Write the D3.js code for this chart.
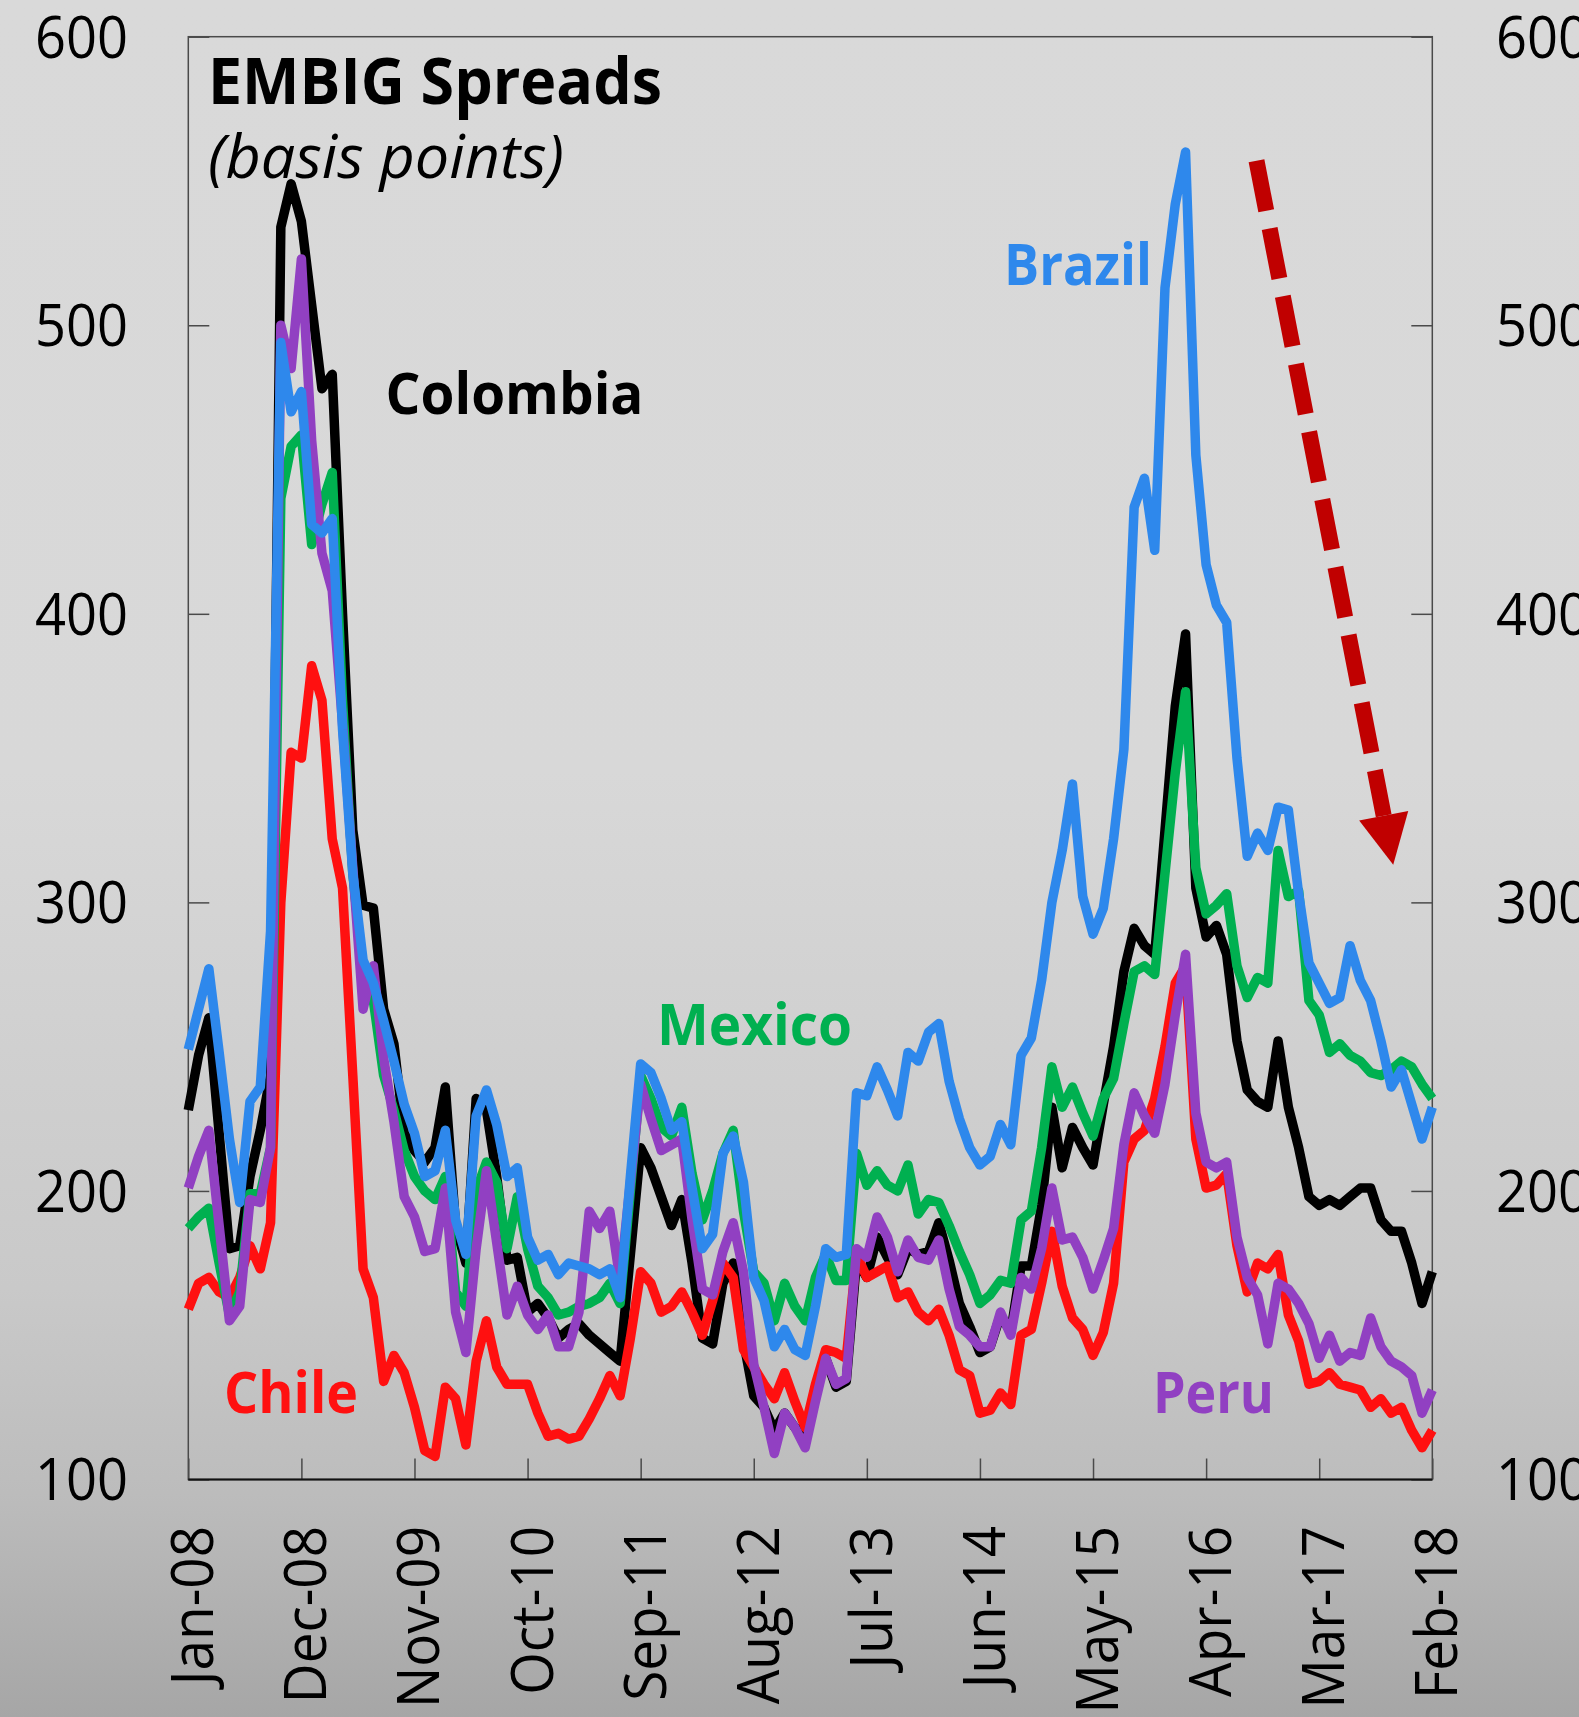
<!DOCTYPE html>
<html>
<head>
<meta charset="utf-8">
<script src="https://cdn.jsdelivr.net/npm/d3@7"></script>
<style>
  html, body { margin: 0; padding: 0; background: #d9d9d9; }
  svg { display: block; }
</style>
</head>
<body>
<svg id="chart" width="1579" height="1717"></svg>
<script>
// Monthly EMBIG spreads (basis points), Jan-2008 .. Feb-2018, one row per year
const brazil = [
  249, 263, 277, 248, 218, 196, 231, 236, 290, 494, 470, 477,
  431, 428, 433, 360, 310, 280, 272, 259, 245, 230, 220, 205,
  207, 221, 190, 178, 226, 235, 223, 205, 208, 184, 176, 178,
  171, 175, 174, 173, 171, 173, 163, 205, 244, 241, 232, 221,
  224, 201, 180, 185, 213, 219, 203, 170, 162, 146, 152, 145,
  143, 160, 180, 177, 178, 234, 233, 243, 235, 226, 248, 245,
  255, 258, 238, 225, 215, 209, 212, 223, 216, 247, 253, 273,
  300, 318, 341, 302, 289, 298, 322, 353, 437, 447, 422, 513,
  542, 560, 455, 417, 403, 397, 350, 316, 324, 318, 333, 332,
  303, 279, 272, 265, 267, 285, 273, 266, 252, 236, 242, 230,
  218, 229
];
const colombia = [
  228, 247, 260, 220, 180, 181, 205, 221, 240, 534, 549, 536,
  507, 478, 483, 400, 325, 299, 298, 263, 251, 220, 214, 210,
  215, 236, 188, 175, 232, 228, 205, 176, 177, 158, 161, 156,
  149, 152, 154, 150, 147, 144, 141, 178, 215, 208, 198, 188,
  197, 175, 149, 147, 168, 175, 148, 129, 125, 117, 123, 118,
  116, 132, 142, 132, 134, 176, 170, 184, 177, 171, 180, 178,
  179, 189, 176, 161, 153, 144, 146, 157, 151, 174, 174, 195,
  229, 208, 222, 215, 209, 230, 250, 276, 291, 285, 282, 325,
  368, 393, 305, 288, 292, 282, 252, 235, 231, 229, 252, 229,
  215, 198, 195, 197, 195, 198, 201, 201, 190, 186, 186, 175,
  161, 172
];
const mexico = [
  187, 191, 194, 175, 157, 165, 199, 199, 215, 440, 458, 462,
  424, 438, 449, 370, 310, 275, 266, 240, 228, 214, 205, 200,
  197, 205, 165, 160, 200, 210, 203, 180, 198, 180, 167, 163,
  157, 158, 160, 161, 163, 168, 161, 200, 240, 232, 222, 219,
  229, 206, 190, 200, 213, 221, 193, 172, 168, 155, 168, 160,
  155, 170, 178, 169, 169, 213, 202, 207, 202, 200, 209, 192,
  197, 196, 188, 179, 171, 161, 164, 169, 168, 190, 193, 215,
  243, 229, 236, 227, 219, 232, 239, 258, 276, 278, 275, 310,
  345, 373, 312, 296, 299, 303, 278, 267, 274, 272, 318, 302,
  304, 266, 261, 248, 251, 247, 245, 241, 240, 242, 245, 243,
  237, 232
];
const peru = [
  201, 212, 221, 188, 155, 160, 197, 196, 215, 500, 485, 523,
  460, 421, 408, 362, 312, 263, 278, 246, 224, 198, 191, 179,
  180, 201, 158, 144, 180, 207, 182, 157, 167, 157, 152, 157,
  146, 146, 158, 193, 187, 193, 169, 203, 237, 225, 214, 216,
  218, 190, 166, 164, 179, 189, 172, 140, 125, 109, 123, 118,
  111, 127, 142, 133, 135, 180, 177, 191, 184, 172, 183, 177,
  176, 183, 166, 153, 150, 146, 146, 158, 150, 170, 166, 180,
  201, 183, 184, 177, 166, 176, 187, 216, 234, 226, 220, 237,
  261, 282, 227, 210, 208, 210, 184, 170, 164, 147, 168, 166,
  161, 154, 142, 150, 141, 144, 143, 156, 146, 141, 139, 136,
  123, 131
];
const chile = [
  159, 168, 170, 165, 163, 170, 181, 173, 189, 300, 352, 350,
  382, 370, 322, 305, 240, 173, 163, 134, 143, 137, 125, 110,
  108, 132, 128, 112, 141, 155, 139, 133, 133, 133, 123, 115,
  116, 114, 115, 121, 128, 136, 129, 149, 172, 168, 158, 160,
  165, 158, 150, 162, 175, 170, 145, 139, 133, 128, 137, 127,
  118, 133, 145, 144, 142, 178, 170, 172, 174, 163, 165, 158,
  155, 159, 150, 138, 136, 123, 124, 130, 126, 150, 152, 168,
  186, 167, 156, 152, 143, 151, 168, 210, 218, 221, 232, 250,
  272, 278, 218, 201, 202, 206, 181, 165, 175, 173, 178, 157,
  148, 133, 134, 137, 133, 132, 131, 125, 128, 123, 125, 117,
  111, 117
];

const tickLabels = ["Jan-08", "Dec-08", "Nov-09", "Oct-10", "Sep-11", "Aug-12",
                    "Jul-13", "Jun-14", "May-15", "Apr-16", "Mar-17", "Feb-18"];
const yTicks = [100, 200, 300, 400, 500, 600];

// Category axis: one slot per month
const months = d3.timeMonth.range(new Date(2008, 0, 1), new Date(2018, 2, 1)).map(d3.timeFormat("%b-%y"));

// Series in drawing order (last one ends up on top)
const series = [
  { name: "Colombia", values: colombia, color: "#000000" },
  { name: "Chile",    values: chile,    color: "#ff1010" },
  { name: "Mexico",   values: mexico,   color: "#00b050" },
  { name: "Peru",     values: peru,     color: "#9140c2" },
  { name: "Brazil",   values: brazil,   color: "#2e88ec" }
];

const W = 1579, H = 1717;
const M = { left: 188.3, right: 1432.3, top: 36.7, bottom: 1479.5 };
const FONT = "'Open Sans', 'Noto Sans', sans-serif";

const svg = d3.select("#chart");

// Background: flat light grey turning darker towards the bottom
const defs = svg.append("defs");
const grad = defs.append("linearGradient").attr("id", "bg").attr("x1", 0).attr("y1", 0).attr("x2", 0).attr("y2", 1);
[[0, "#d9d9d9"], [0.45, "#d8d8d8"], [0.75, "#c9c9c9"], [0.87, "#bcbcbc"], [1, "#a6a6a6"]]
  .forEach(([o, c]) => grad.append("stop").attr("offset", o).attr("stop-color", c));
svg.append("rect").attr("width", W).attr("height", H).attr("fill", "url(#bg)");

const x = d3.scalePoint().domain(months).range([M.left, M.right]);
const xi = d3.scaleLinear().domain([0, months.length - 1]).range([M.left, M.right]);
const y = d3.scaleLinear().domain([100, 600]).range([M.bottom, M.top]);

// Inward tick marks on left, right and bottom
const tickLen = 21;
const styleTicks = g => {
  g.select(".domain").remove();
  g.selectAll("line").attr("stroke", "#4a4a4a").attr("stroke-width", 1.5);
};
svg.append("g").attr("transform", `translate(${M.left},0)`)
  .call(d3.axisLeft(y).tickValues(yTicks).tickSize(-tickLen).tickSizeOuter(0).tickFormat(""))
  .call(styleTicks);
svg.append("g").attr("transform", `translate(${M.right},0)`)
  .call(d3.axisRight(y).tickValues(yTicks).tickSize(-tickLen).tickSizeOuter(0).tickFormat(""))
  .call(styleTicks);
svg.append("g").attr("transform", `translate(0,${M.bottom})`)
  .call(d3.axisBottom(x).tickValues(tickLabels).tickSize(-tickLen).tickSizeOuter(0).tickFormat(""))
  .call(styleTicks);

// Plot frame
svg.append("rect")
  .attr("x", M.left).attr("y", M.top)
  .attr("width", M.right - M.left).attr("height", M.bottom - M.top)
  .attr("fill", "none").attr("stroke", "#4a4a4a").attr("stroke-width", 1.5);
svg.append("line")
  .attr("x1", M.left).attr("x2", M.right).attr("y1", M.bottom).attr("y2", M.bottom)
  .attr("stroke", "#111").attr("stroke-width", 2);

// Measure a text's natural width so it can be squeezed to a target width
function measure(str, size, weight, style) {
  const t = svg.append("text").attr("font-family", FONT).attr("font-size", size)
    .attr("font-weight", weight || "normal").attr("font-style", style || "normal").text(str);
  const w = t.node().getComputedTextLength();
  t.remove();
  return w;
}

// Y tick labels on both sides
const yFs = 58;
const yScaleX = 93 / measure("600", yFs);
const yLab = svg.append("g").attr("font-family", FONT).attr("font-size", yFs).attr("fill", "#000");
yTicks.forEach(v => {
  const by = y(v) + yFs * 0.36;
  const w = measure(String(v), yFs) * yScaleX;
  yLab.append("text").attr("x", 128).attr("y", by).attr("text-anchor", "end")
    .attr("textLength", w).attr("lengthAdjust", "spacingAndGlyphs").text(v);
  yLab.append("text").attr("x", 1496).attr("y", by).attr("text-anchor", "start")
    .attr("textLength", w).attr("lengthAdjust", "spacingAndGlyphs").text(v);
});

// X tick labels, rotated to read bottom-to-top
const xFs = 58;
const xScaleX = 173 / measure("Feb-18", xFs);
const xLab = svg.append("g").attr("font-family", FONT).attr("font-size", xFs).attr("fill", "#000");
tickLabels.forEach(lbl => {
  xLab.append("text")
    .attr("transform", `translate(${x(lbl) + 25},1526) rotate(-90) scale(${xScaleX},1)`)
    .attr("text-anchor", "end").text(lbl);
});

// Series lines
const line = d3.line().x((d, i) => x(months[i])).y(d => y(d)).curve(d3.curveLinear);
svg.append("g").selectAll("path").data(series).join("path")
  .attr("d", d => line(d.values))
  .attr("fill", "none")
  .attr("stroke", d => d.color)
  .attr("stroke-width", 9.5)
  .attr("stroke-linejoin", "round")
  .attr("stroke-linecap", "butt");

// Title block
svg.append("text").attr("x", 208).attr("y", 104)
  .attr("font-family", FONT).attr("font-weight", "bold").attr("font-size", 64)
  .attr("textLength", 454).attr("lengthAdjust", "spacingAndGlyphs")
  .text("EMBIG Spreads");
svg.append("text").attr("x", 208).attr("y", 178)
  .attr("font-family", FONT).attr("font-style", "italic").attr("font-size", 60)
  .attr("textLength", 356).attr("lengthAdjust", "spacingAndGlyphs")
  .text("(basis points)");

// Country labels placed beside their lines
const seriesLabels = [
  { name: "Colombia", color: "#000000", pos: [385.5, 414],  len: 258 },
  { name: "Brazil",   color: "#2e88ec", pos: [1004, 285],   len: 148 },
  { name: "Mexico",   color: "#00b050", pos: [657, 1045],   len: 195 },
  { name: "Chile",    color: "#ff1010", pos: [224, 1413],   len: 134 },
  { name: "Peru",     color: "#9140c2", pos: [1153, 1413],  len: 121 }
];
seriesLabels.forEach(s => {
  svg.append("text")
    .attr("x", s.pos[0]).attr("y", s.pos[1])
    .attr("font-family", FONT).attr("font-weight", "bold").attr("font-size", 58)
    .attr("fill", s.color)
    .attr("textLength", s.len).attr("lengthAdjust", "spacingAndGlyphs")
    .text(s.name);
});

// Downward trend arrow, given as (month slot, spread) for its start and tip
const trendArrow = { from: [103.9, 557], to: [117.2, 313] };
const p0 = [xi(trendArrow.from[0]), y(trendArrow.from[1])];
const tip = [xi(trendArrow.to[0]), y(trendArrow.to[1])];
const dx = tip[0] - p0[0], dy = tip[1] - p0[1], L = Math.hypot(dx, dy);
const ux = dx / L, uy = dy / L;
const headLen = 50, headHalf = 25;
const base = [tip[0] - ux * headLen, tip[1] - uy * headLen];
svg.append("line")
  .attr("x1", p0[0]).attr("y1", p0[1]).attr("x2", base[0]).attr("y2", base[1])
  .attr("stroke", "#c00000").attr("stroke-width", 16).attr("stroke-dasharray", "51 18");
svg.append("polygon")
  .attr("points", [
    [base[0] + uy * headHalf, base[1] - ux * headHalf],
    [base[0] - uy * headHalf, base[1] + ux * headHalf],
    tip
  ].map(p => p.join(",")).join(" "))
  .attr("fill", "#c00000");
</script>
</body>
</html>
